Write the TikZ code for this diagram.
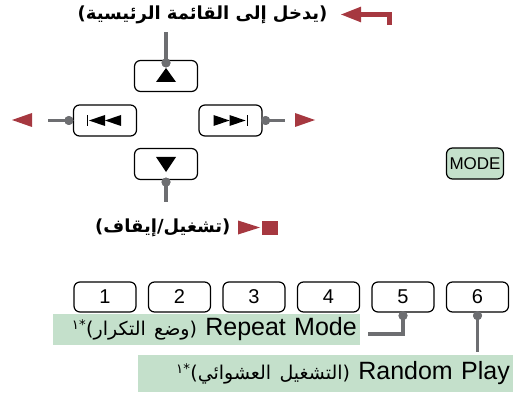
\documentclass[tikz,border=0pt]{standalone}
\usepackage{fontspec}
\setmainfont{Liberation Sans}
\newfontfamily\arabicfont[Script=Arabic]{DejaVu Sans}
\TeXXeTstate=1
\usetikzlibrary{positioning,arrows.meta}

\definecolor{keyred}{RGB}{166,56,64}
\definecolor{leadgray}{RGB}{109,110,113}
\definecolor{notegreen}{RGB}{196,224,203}

\begin{document}
\begin{tikzpicture}[x=1pt,y=1pt,
                    key/.style={draw,rounded corners=6pt,line width=1.2pt,minimum width=63pt,
                                minimum height=31pt,inner sep=0pt,font=\fontsize{20}{20}\selectfont},
                    lead/.style={leadgray,line width=3.5pt},
                    dot/.style={circle,fill=leadgray,inner sep=0pt,minimum size=9pt},
                    note/.style={fill=notegreen,inner xsep=3pt,inner ysep=0pt,align=right,
                                 font=\fontsize{25}{25}\selectfont},
                    arlabel/.style={font=\arabicfont\bfseries\fontsize{18}{18}\selectfont}]

  \useasboundingbox (0,0) rectangle (513,394);

  % cursor keys
  \node[key] (up) at (166,318) {};
  \node[key] (down) at (166,230) {};
  \node[key] (prev) at (105,273.5) {};
  \node[key] (next) at (230.5,273.5) {};
  \node[key,fill=notegreen,minimum width=57pt,font=\fontsize{17}{17}\selectfont] (mode) at (475,230.5) {MODE};

  % key symbols
  \fill ([shift={(-10,-6)}]up.center) -- ([shift={(0,8)}]up.center) -- ([shift={(10,-6)}]up.center) -- cycle;
  \fill ([shift={(-10,7)}]down.center) -- ([shift={(0,-8)}]down.center) -- ([shift={(10,7)}]down.center) -- cycle;
  \fill ([shift={(-18.5,-5.5)}]prev.center) rectangle ([shift={(-17,5.5)}]prev.center);
  \fill ([shift={(-16,0)}]prev.center) -- ([shift={(0,5.5)}]prev.center) -- ([shift={(0,-5.5)}]prev.center) -- cycle;
  \fill ([shift={(0,0)}]prev.center) -- ([shift={(16,5.5)}]prev.center) -- ([shift={(16,-5.5)}]prev.center) -- cycle;
  \fill ([shift={(-17,5.5)}]next.center) -- ([shift={(-1,0)}]next.center) -- ([shift={(-17,-5.5)}]next.center) -- cycle;
  \fill ([shift={(-1,5.5)}]next.center) -- ([shift={(15,0)}]next.center) -- ([shift={(-1,-5.5)}]next.center) -- cycle;
  \fill ([shift={(16,-5.5)}]next.center) rectangle ([shift={(17.5,5.5)}]next.center);

  % leads of the cursor keys
  \node[dot] (upd) at ([yshift=-3pt]up.north) {};
  \node[dot] (downd) at ([yshift=-2pt]down.south) {};
  \node[dot] (prevd) at ([xshift=-4pt]prev.west) {};
  \node[dot] (nextd) at ([xshift=3pt]next.east) {};
  \coordinate (upend) at (166,362);
  \coordinate (downend) at (166,192);
  \coordinate (prevend) at (48,273.5);
  \coordinate (nextend) at (285,273.5);
  \draw[lead] (upd.center) -- (upend);
  \draw[lead] (downd.center) -- (downend);
  \draw[lead] (prevd.center) -- (prevend);
  \draw[lead] (nextd.center) -- (nextend);
  \node[dot] at (upd) {};
  \node[dot] at (downd) {};
  \node[dot] at (prevd) {};
  \node[dot] at (nextd) {};

  % red marks
  \fill[keyred] (12,274) -- (32,281) -- (32,267) -- cycle;
  \fill[keyred] (315,274) -- (295,281) -- (295,267) -- cycle;

  \node[arlabel,anchor=east] (menu) at (331,379) {\beginR(يدخل إلى القائمة الرئيسية)\endR};
  \coordinate (retfoot) at (389,369);
  \coordinate (rettip) at (340,379.5);
  \draw[keyred,line width=5pt,-{Triangle[length=21pt,width=14pt]}] (retfoot) |- (rettip);

  \node[arlabel,anchor=east] (play) at (234,166) {\beginR(تشغيل/إيقاف)\endR};
  \fill[keyred] (238,173.5) -- (260,166.5) -- (238,159.5) -- cycle;
  \fill[keyred] (262,159.5) rectangle (278,173.5);

  % preset keys
  \foreach \n in {1,...,6}
    \node[key,minimum width=62pt,minimum height=30pt] (k\n) at ({105+74.5*(\n-1)},97) {\n};

  \node[note,anchor=east,text width=301pt,minimum height=31pt] (repeat) at (360,64.5)
    {{\arabicfont\fontsize{19}{19}\selectfont\beginR(وضع التكرار)\textsuperscript{*١}\endR}\ Repeat Mode};
  \node[note,anchor=east,text width=369pt,minimum height=37pt] (random) at (513,20.5)
    {{\arabicfont\fontsize{19}{19}\selectfont\beginR(التشغيل العشوائي)\textsuperscript{*١}\endR}\ Random Play};

  \node[dot] (k5d) at ([yshift=-3pt]k5.south) {};
  \node[dot] (k6d) at ([yshift=-3pt]k6.south) {};
  \coordinate (repeatend) at (368,60);
  \coordinate (randomend) at (477.5,42);
  \draw[lead] (k5d.center) |- (repeatend);
  \draw[lead] (k6d.center) -- (randomend);
  \node[dot] at (k5d) {};
  \node[dot] at (k6d) {};
\end{tikzpicture}
\end{document}
